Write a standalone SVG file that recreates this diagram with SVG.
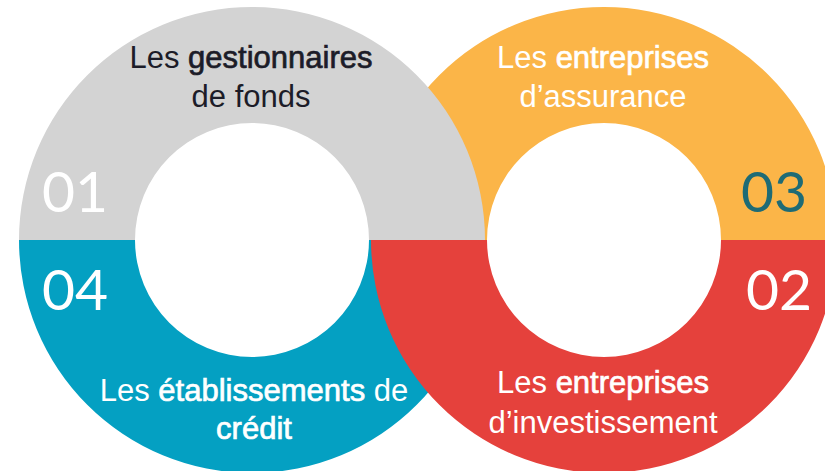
<svg xmlns="http://www.w3.org/2000/svg" width="825" height="471" viewBox="0 0 825 471">
<style>
.lbl{font-family:"Liberation Sans",Arial,sans-serif;font-size:31px;text-anchor:middle}
.w{fill:#ffffff}
.d{fill:#1c1c28}
.kw{stroke-width:0.7}
.w .kw{stroke:#ffffff}
.d .kw{stroke:#1c1c28}
.num{font-family:Lato,"Liberation Sans",sans-serif;font-weight:400;font-size:57px}
</style>
<rect width="825" height="471" fill="#ffffff"/>
<g id="node-03">
<path d="M371,240 A233,233 0 0 1 837,240 L721,240 A117,117 0 0 0 487,240 Z" fill="#fbb548"/>
</g>
<g id="node-01">
<path d="M19,240 A233,233 0 0 1 485,240 L369,240 A117,117 0 0 0 135,240 Z" fill="#d3d3d3"/>
</g>
<g id="node-04">
<path d="M19,240 A233,233 0 0 0 485,240 L369,240 A117,117 0 0 1 135,240 Z" fill="#04a0c2"/>
</g>
<g id="node-02">
<path d="M371,240 A233,233 0 0 0 837,240 L721,240 A117,117 0 0 1 487,240 Z" fill="#e5413c"/>
</g>
<g id="labels-01">
<text class="lbl d" x="251" y="68">Les <tspan class="kw">gestionnaires</tspan></text>
<text class="lbl d" x="251" y="107">de fonds</text>
<text class="num" x="42" y="212" fill="#ffffff">01</text>
</g>
<g id="labels-03">
<text class="lbl w" x="603" y="68">Les <tspan class="kw">entreprises</tspan></text>
<text class="lbl w" x="603" y="107">d’assurance</text>
<text class="num" x="741" y="212" fill="#1e6b75">03</text>
</g>
<g id="labels-04">
<text class="lbl w" x="254" y="401">Les <tspan class="kw">établissements</tspan> de</text>
<text class="lbl w" x="254" y="439"><tspan class="kw">crédit</tspan></text>
<text class="num" x="42" y="310" fill="#ffffff">04</text>
</g>
<g id="labels-02">
<text class="lbl w" x="603" y="393">Les <tspan class="kw">entreprises</tspan></text>
<text class="lbl w" x="603" y="433">d’investissement</text>
<text class="num" x="746" y="310" fill="#ffffff">02</text>
</g>
</svg>
